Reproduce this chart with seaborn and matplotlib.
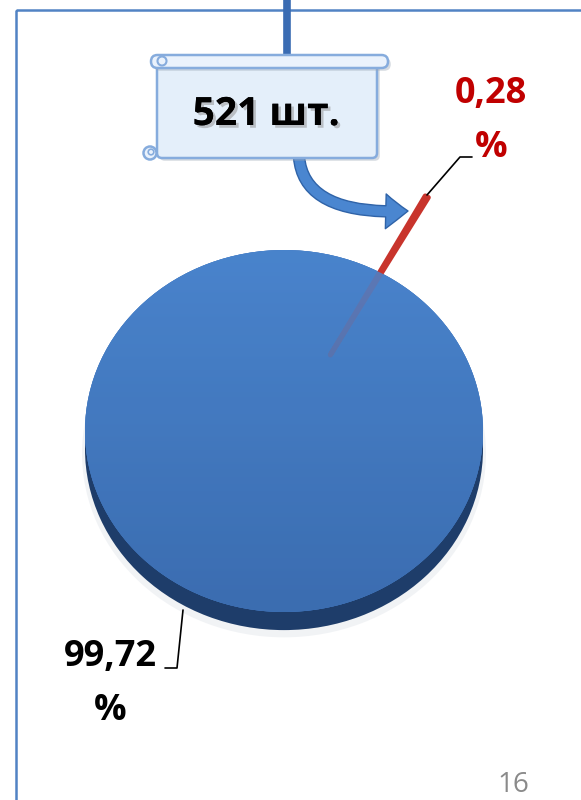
import numpy as np
import matplotlib
matplotlib.use("Agg")
import matplotlib.pyplot as plt
import seaborn as sns
from matplotlib.patches import FancyBboxPatch, Circle, FancyArrowPatch, Rectangle
from matplotlib.path import Path
from matplotlib.colors import LinearSegmentedColormap
import matplotlib.patheffects as pe

# ---------------- data ----------------
categories = ["Прочие", "Выявленные"]
shares = [99.72, 0.28]
count_label = "521 шт."
page_label = "16"
slice_colors = ["#4379C0", "#C8342C"]
label_colors = ["#000000", "#C00000"]

sns.set_theme(style="white")
plt.rcParams['font.family'] = ['Open Sans', 'DejaVu Sans']

W, H = 581, 800
fig = plt.figure(figsize=(W / 100, H / 100), dpi=100)
fig.patch.set_facecolor('white')

# ---------------- pie axes ----------------
axp = fig.add_axes([0, 0, 1, 1])
axp.patch.set_visible(False)
cx, cy, rx, ry = 284, 431, 199, 181
rim_off = 0.10
total = sum(shares)

# soft shadow and dark rim (3D look)
axp.pie([total], colors=['#C9D0DA'], radius=1.015, center=(0, -rim_off - 0.025),
        wedgeprops=dict(linewidth=0, alpha=0.25))
axp.pie([total], colors=['#1E3D6A'], radius=1.0, center=(0, -rim_off),
        wedgeprops=dict(linewidth=0))
axp.pie([total], colors=[slice_colors[0]], radius=1.0,
        wedgeprops=dict(linewidth=0))

red_angle = 61.0
start = red_angle + 360 * shares[1] / total / 2
wedges, _ = axp.pie(shares, colors=slice_colors, startangle=start,
                    explode=[0, 0.48], radius=1.0,
                    wedgeprops=dict(linewidth=0))
wedges[1].set_edgecolor(slice_colors[1])
wedges[1].set_linewidth(3.6)
wedges[1].set_joinstyle('round')
wedges[1].set_zorder(3)

# gradient shading of the face
cmap = LinearSegmentedColormap.from_list("face", ["#4B86CF", "#3A6BAE"])
grad = np.linspace(0, 1, 256).reshape(-1, 1)
im = axp.imshow(grad, extent=(-1, 1, -1, 1), cmap=cmap, aspect='auto',
                alpha=0.86, zorder=4, origin='upper')
clip = Circle((0, 0), 1.0, transform=axp.transData)
im.set_clip_path(clip)

axp.set_aspect('auto')
axp.set_xlim(-cx / rx, (W - cx) / rx)
axp.set_ylim(-(H - cy) / ry, cy / ry)
axp.axis('off')

# ---------------- overlay axes (pixel coords) ----------------
ax = fig.add_axes([0, 0, 1, 1])
ax.patch.set_visible(False)
ax.set_xlim(0, W)
ax.set_ylim(H, 0)
ax.axis('off')

# frame
ax.add_patch(Rectangle((15.5, 10), 700, 900, fill=False, ec='#5183C4', lw=1.8, zorder=1))

# connector from top
ax.plot([287, 287], [0, 57], color='#3A6CB3', lw=5.5, solid_capstyle='butt', zorder=3)

# scroll shape
shadow = [pe.withSimplePatchShadow(offset=(2, -2), shadow_rgbFace='#9AA6B5', alpha=0.4)]
sc_fc = '#E4EFFA'
sc_ec = '#86ACDD'
body = FancyBboxPatch((157, 62), 220, 96, boxstyle="round,pad=0,rounding_size=5",
                      fc=sc_fc, ec=sc_ec, lw=1.8, zorder=4, path_effects=shadow)
ax.add_patch(body)
roll = FancyBboxPatch((151, 55), 237, 13, boxstyle="round,pad=0,rounding_size=6.5",
                      fc='#EAF2FC', ec=sc_ec, lw=1.8, zorder=5, path_effects=shadow)
ax.add_patch(roll)
ax.add_patch(Circle((162, 61), 4.5, fc='#EAF2FC', ec=sc_ec, lw=1.5, zorder=6))
ax.add_patch(Circle((150, 153), 6.5, fc='#EAF2FC', ec=sc_ec, lw=1.8, zorder=6))
ax.add_patch(Circle((151, 152), 2.8, fc='#EAF2FC', ec=sc_ec, lw=1.2, zorder=7))

ax.text(266, 125, count_label, ha='center', va='baseline', fontsize=28,
        fontweight='bold', color='black', zorder=8,
        path_effects=[pe.withSimplePatchShadow(offset=(2, -2), shadow_rgbFace='#8F8F8F', alpha=0.5),
                      pe.Normal()])

# curved arrow
arrow_path = Path([(299, 157), (304, 216), (408, 211)],
                  [Path.MOVETO, Path.CURVE3, Path.CURVE3])
arr = FancyArrowPatch(path=arrow_path,
                      arrowstyle='simple,head_length=16,head_width=25,tail_width=8',
                      mutation_scale=1, fc='#4A86D0', ec='#2F63A8', lw=1.0, zorder=3)
ax.add_patch(arr)

# labels with leader lines
def fmt(v):
    return f"{v:.2f}".replace('.', ',') + "\n%"

ax.plot([427, 460, 472], [195, 157, 157], color='black', lw=1.2, zorder=5)
ax.text(491, 157, fmt(shares[1]), ha='center', va='baseline', fontsize=26,
        fontweight='bold', color=label_colors[1], linespacing=1.65, zorder=8)

ax.plot([183, 177, 165], [610, 668, 668], color='black', lw=1.2, zorder=5)
ax.text(110, 720, fmt(shares[0]), ha='center', va='baseline', fontsize=26,
        fontweight='bold', color=label_colors[0], linespacing=1.65, zorder=8)

# page number
ax.text(513, 792, page_label, ha='center', va='baseline', fontsize=20,
        color='#8A8A8A', zorder=8)

fig.savefig("out.png", dpi=100, facecolor='white')
